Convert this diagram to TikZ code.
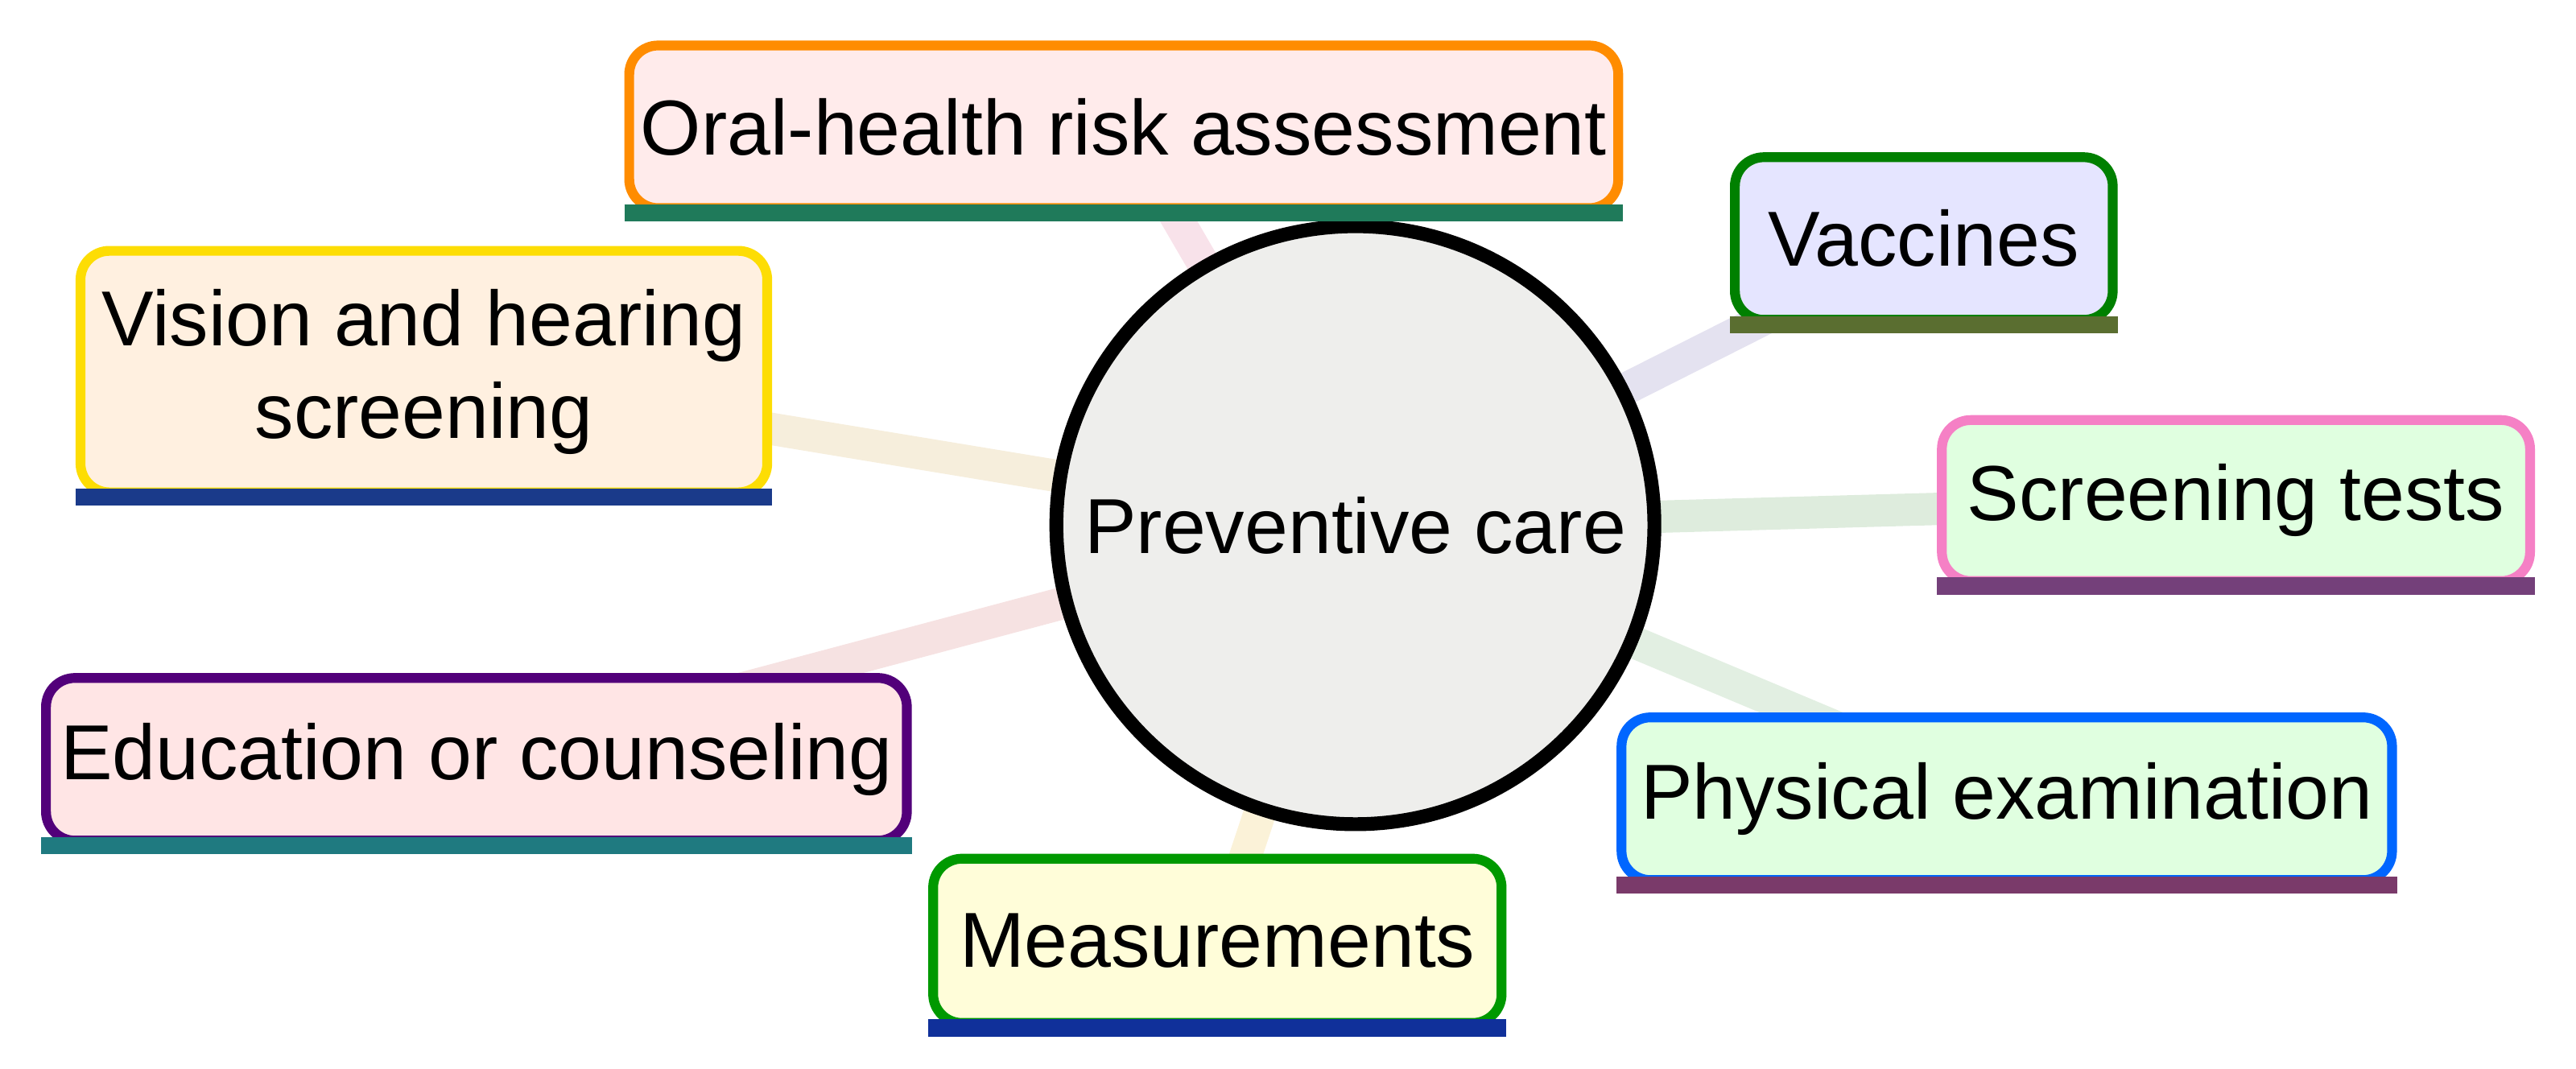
\documentclass[tikz,border=0pt]{standalone}
\usepackage{fontspec}
\setmainfont{Liberation Sans}
\definecolor{hubfill}{HTML}{EEEEEC}
\tikzset{
  topic/.style 2 args={draw=#1, fill=#2, line width=1.7pt, rounded corners=5pt,
    inner sep=0pt, align=center, font=\fontsize{13.5}{16}\selectfont},
  bar/.style={line width=3pt},
  spoke/.style={line width=5.6pt}
}
\begin{document}
\begin{tikzpicture}
  \useasboundingbox (0,0) rectangle (15.68,6.507);

  \coordinate (hub) at (8.25,3.31);
  \coordinate (c1) at (6.84,5.735);
  \coordinate (c2) at (11.71,5.055);
  \coordinate (c3) at (2.58,4.245);
  \coordinate (c4) at (13.61,3.46);
  \coordinate (c5) at (2.90,1.885);
  \coordinate (c6) at (12.215,1.645);
  \coordinate (c7) at (7.41,0.78);

  \draw[spoke, color={rgb,255:red,248;green,226;blue,234}] (hub) -- (c1);
  \draw[spoke, color={rgb,255:red,228;green,226;blue,240}] (hub) -- (c2);
  \draw[spoke, color={rgb,255:red,246;green,238;blue,220}] (hub) -- (c3);
  \draw[spoke, color={rgb,255:red,222;green,236;blue,221}] (hub) -- (c4);
  \draw[spoke, color={rgb,255:red,246;green,226;blue,226}] (hub) -- (c5);
  \draw[spoke, color={rgb,255:red,226;green,239;blue,226}] (hub) -- (c6);
  \draw[spoke, color={rgb,255:red,251;green,242;blue,216}] (hub) -- (c7);

  \node[circle, draw=black, fill=hubfill, line width=2.4pt, minimum size=3.64cm,
    font=\fontsize{13.5}{16}\selectfont] (care) at (hub) {Preventive care};

  \node[topic={orange!90!yellow}{red!8!white}, minimum width=6.02cm, minimum height=0.99cm] (oral) at (c1) {Oral-health risk assessment};
  \node[topic={green!50!black}{blue!10!white}, minimum width=2.30cm, minimum height=0.99cm] (vacc) at (c2) {Vaccines};
  \node[topic={yellow!80!orange}{orange!12!white}, minimum width=4.18cm, minimum height=1.47cm] (vision) at (c3) {Vision and hearing\\screening};
  \node[topic={magenta!50!white}{green!12!white}, minimum width=3.58cm, minimum height=0.98cm] (screen) at (c4) {Screening tests};
  \node[topic={blue!60!red!80!black}{red!10!white}, minimum width=5.24cm, minimum height=0.99cm] (edu) at (c5) {Education or counseling};
  \node[topic={blue!60!cyan}{green!12!white}, minimum width=4.69cm, minimum height=0.99cm] (phys) at (c6) {Physical examination};
  \node[topic={green!60!black}{yellow!15!white}, minimum width=3.46cm, minimum height=1.00cm] (meas) at (c7) {Measurements};

  \draw[bar, color={rgb,255:red,31;green,122;blue,90}] (oral.south west) -- (oral.south east);
  \draw[bar, color={rgb,255:red,90;green,110;blue,48}] (vacc.south west) -- (vacc.south east);
  \draw[bar, color={rgb,255:red,26;green,58;blue,138}] (vision.south west) -- (vision.south east);
  \draw[bar, color={rgb,255:red,116;green,64;blue,122}] (screen.south west) -- (screen.south east);
  \draw[bar, color={rgb,255:red,31;green,122;blue,128}] (edu.south west) -- (edu.south east);
  \draw[bar, color={rgb,255:red,122;green,58;blue,106}] (phys.south west) -- (phys.south east);
  \draw[bar, color={rgb,255:red,16;green,48;blue,154}] (meas.south west) -- (meas.south east);
\end{tikzpicture}
\end{document}
